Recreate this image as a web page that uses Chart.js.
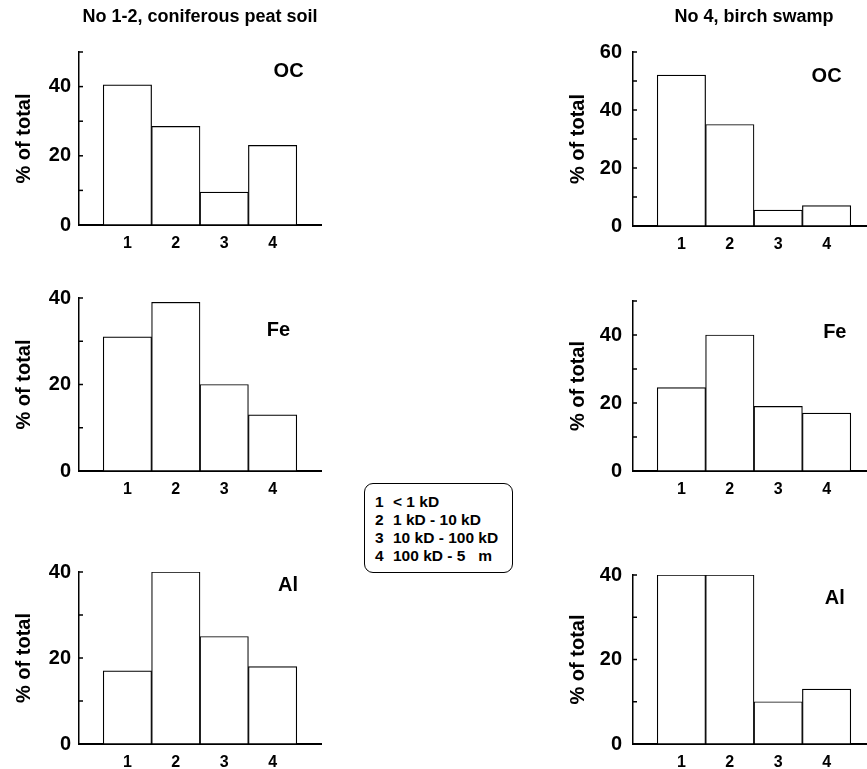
<!DOCTYPE html>
<html>
<head>
<meta charset="utf-8">
<title>Molecular size fractions</title>
<script src="https://cdn.jsdelivr.net/npm/chart.js@4.4.1/dist/chart.umd.min.js"></script>
<style>
  html, body { margin: 0; padding: 0; background: #fff; overflow: hidden; }
  body { width: 867px; height: 769px; position: relative; font-family: "Liberation Sans", Arial, sans-serif; }
  canvas { position: absolute; }
  #key {
    position: absolute; left: 364px; top: 483px; width: 149px; height: 90px;
    box-sizing: border-box; border: 1.5px solid #000; border-radius: 9px;
    padding: 9px 0 0 10px; font-weight: bold; font-size: 15.5px; line-height: 18px;
    white-space: pre; color: #000;
  }
  #key span { display: inline-block; width: 18px; }
</style>
</head>
<body>
<canvas id="peatOC" width="330" height="255" style="left:0;top:0"></canvas>
<canvas id="swampOC" width="330" height="256" style="left:554px;top:0"></canvas>
<canvas id="peatFe" width="330" height="223" style="left:0;top:278px"></canvas>
<canvas id="swampFe" width="330" height="223" style="left:554px;top:278px"></canvas>
<canvas id="peatAl" width="330" height="222" style="left:0;top:552px"></canvas>
<canvas id="swampAl" width="330" height="222" style="left:554px;top:552px"></canvas>
<div id="key"></div>

<script>
// size fractions (x positions) and what each one means
const fractions = [1, 2, 3, 4];
const sizeClasses = ['< 1 kD', '1 kD - 10 kD', '10 kD - 100 kD', '100 kD - 5   m'];

// % of total per fraction
const peatOC  = [40.5, 28.5, 9.5, 23];
const peatFe  = [31, 39, 20, 13];
const peatAl  = [17, 40, 25, 18];
const swampOC = [52, 35, 5.5, 7];
const swampFe = [24.5, 40, 19, 17];
const swampAl = [40, 40, 10, 13];

const FONT = '"Liberation Sans", Arial, sans-serif';
Chart.defaults.font.family = FONT;
Chart.defaults.color = '#000';

// key box in the middle
document.getElementById('key').innerHTML =
  sizeClasses.map((s, i) => '<span>' + fractions[i] + '</span>' + s).join('\n');

// inward ticks on the y axis and the element name inside the plot
const panelDecor = {
  id: 'panelDecor',
  afterDraw(chart, args, opts) {
    const {ctx, chartArea, scales: {x, y}} = chart;
    ctx.save();
    ctx.strokeStyle = '#000';
    ctx.lineWidth = 1.5;
    y.ticks.forEach(t => {
      if (t.value === 0) return;
      const py = y.getPixelForValue(t.value);
      ctx.beginPath();
      ctx.moveTo(chartArea.left, py);
      ctx.lineTo(chartArea.left + 4, py);
      ctx.stroke();
    });
    ctx.font = 'bold 20px ' + FONT;
    ctx.fillStyle = '#000';
    ctx.textAlign = 'center';
    ctx.textBaseline = 'middle';
    ctx.fillText(opts.text, x.getPixelForValue(opts.at[0]), y.getPixelForValue(opts.at[1]));
    ctx.restore();
  }
};

function panel(id, values, yMax, name, nameAt, heading, leftSide) {
  new Chart(document.getElementById(id), {
    type: 'bar',
    data: {
      datasets: [{
        data: values.map((v, i) => ({x: fractions[i], y: v})),
        backgroundColor: '#fff',
        borderColor: '#000',
        borderWidth: 1.2,
        borderSkipped: false,
        barPercentage: 1,
        categoryPercentage: 1
      }]
    },
    options: {
      responsive: false,
      animation: false,
      layout: {padding: {top: heading ? 0 : 20, right: 6, left: 0, bottom: 0}},
      plugins: {
        legend: {display: false},
        tooltip: {enabled: false},
        title: {
          display: !!heading,
          text: heading || '',
          fullSize: false,
          color: '#000',
          font: {size: 18, weight: 'bold'},
          padding: {top: 6, bottom: 24.4}
        },
        panelDecor: {text: name, at: nameAt}
      },
      scales: {
        x: {
          type: 'linear',
          min: 0, max: 5,
          offset: false,
          grid: {display: false, drawTicks: false, offset: false},
          border: {display: true, color: '#000', width: 2},
          ticks: {
            stepSize: 1,
            autoSkip: false,
            maxRotation: 0,
            padding: 9,
            font: {size: 16, weight: 'bold'},
            callback: v => fractions.includes(v) ? String(v) : ''
          },
          afterFit: s => { s.height = 30; }
        },
        y: {
          min: 0, max: yMax,
          grid: {display: false, drawTicks: false},
          border: {display: true, color: '#000', width: 1.5},
          ticks: {
            stepSize: 10,
            padding: leftSide ? 8 : 11,
            font: {size: 20, weight: 'bold'},
            callback: v => v % 20 === 0 ? v : ''
          },
          title: {
            display: true,
            text: '% of total',
            font: {size: 20, weight: 'bold'},
            padding: {top: 12, bottom: 0}
          },
          afterFit: s => { s.width = 79; }
        }
      }
    },
    plugins: [panelDecor]
  });
}

panel('peatOC',  peatOC,  50, 'OC', [4.33, 44.4], 'No 1-2, coniferous peat soil', true);
panel('swampOC', swampOC, 60, 'OC', [4.0, 51.6], 'No 4, birch swamp', false);
panel('peatFe',  peatFe,  40, 'Fe', [4.12, 32.6], null, true);
panel('swampFe', swampFe, 50, 'Fe', [4.17, 40.8], null, false);
panel('peatAl',  peatAl,  40, 'Al', [4.32, 36.9], null, true);
panel('swampAl', swampAl, 40, 'Al', [4.17, 34.4], null, false);
</script>
</body>
</html>
